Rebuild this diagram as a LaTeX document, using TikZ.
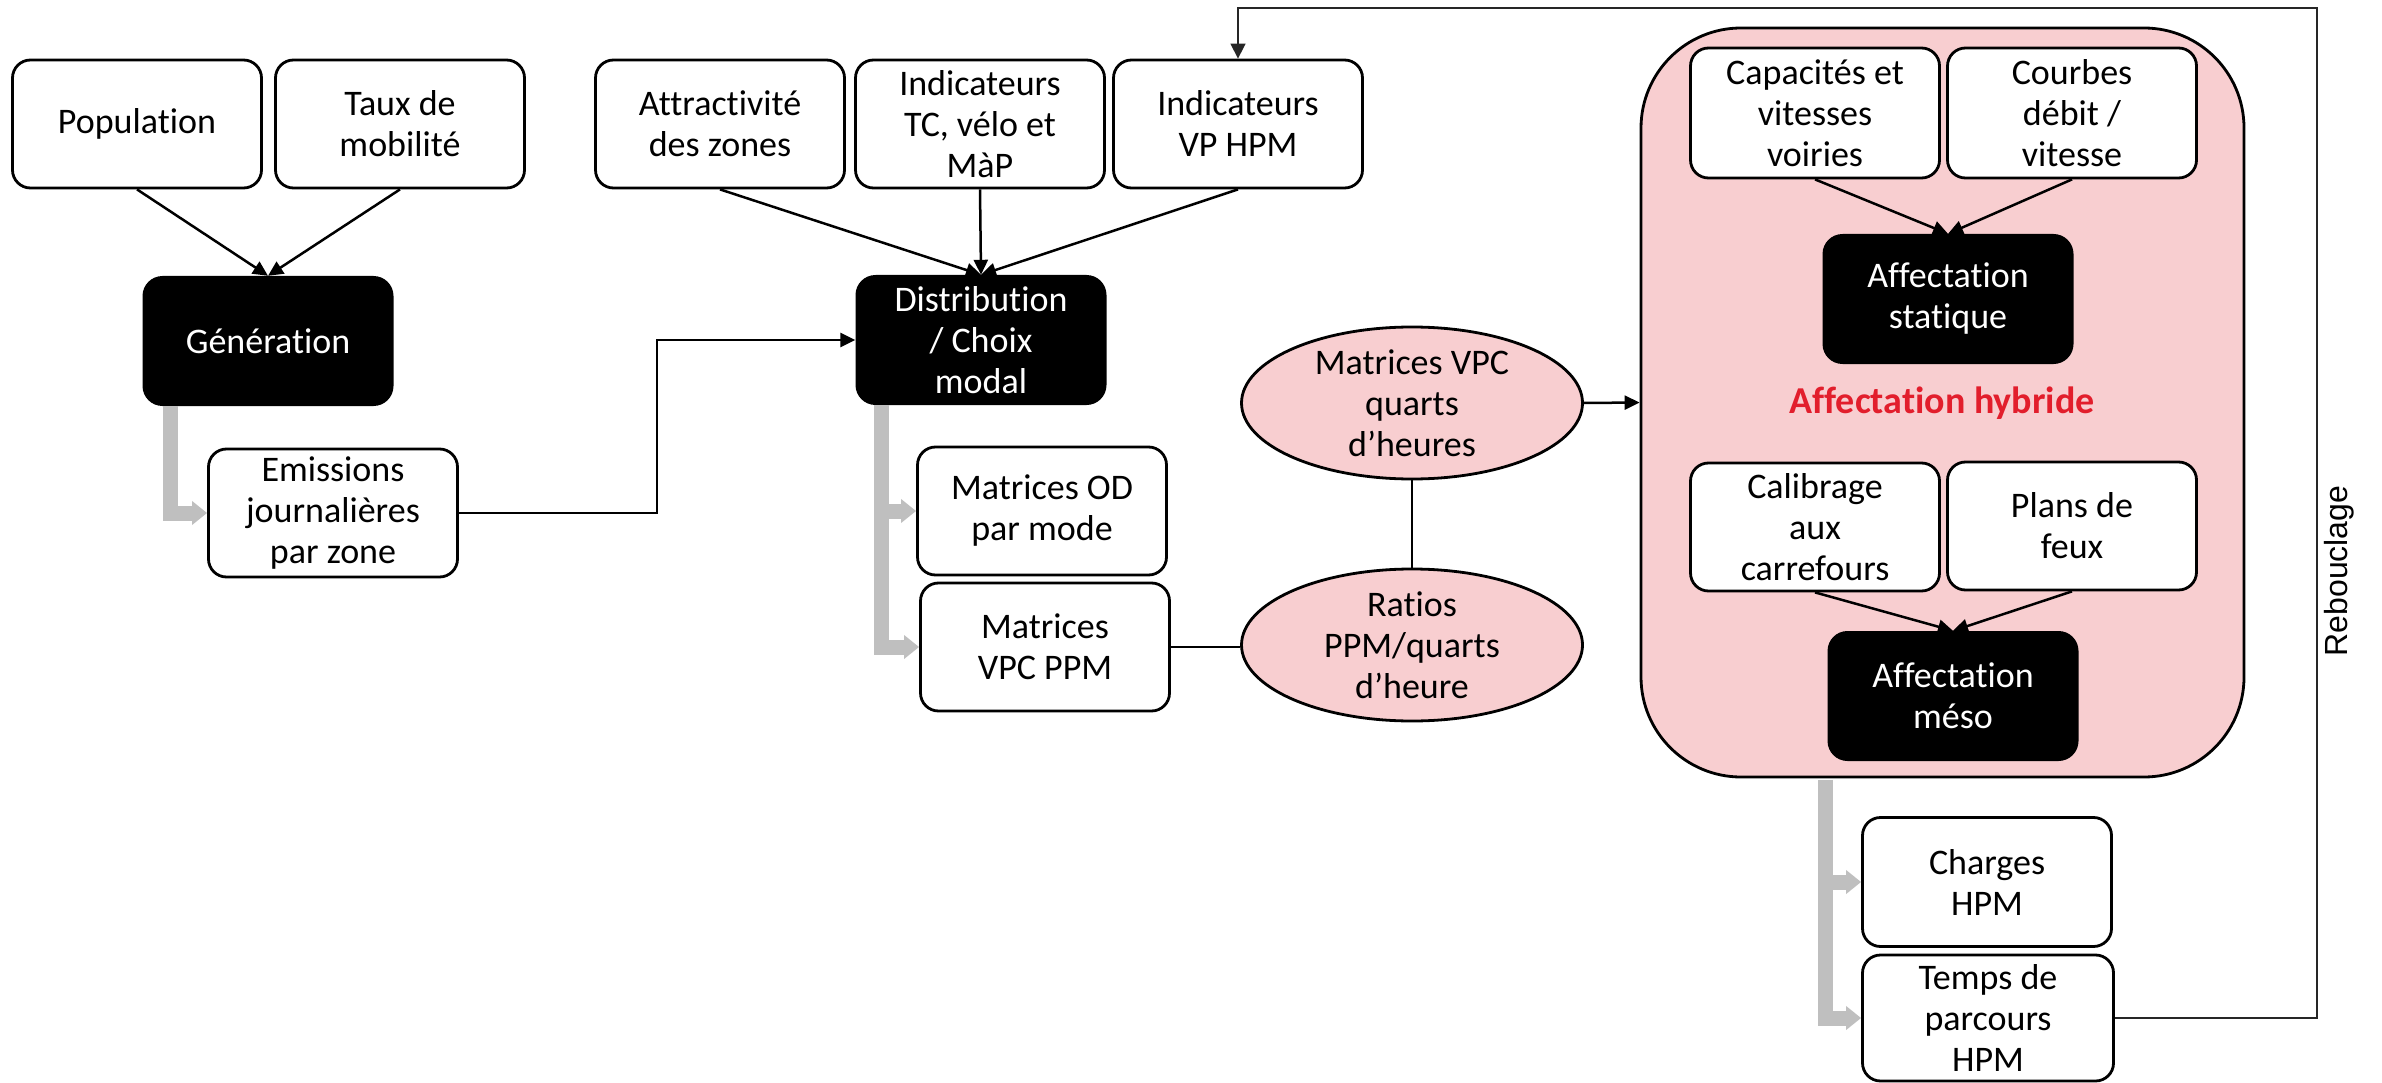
\documentclass[tikz,border=0pt]{standalone}
\usepackage{fontspec}
\setmainfont{Carlito}[Ligatures={NoCommon}, RawFeature={-liga;-calt}]
\newfontfamily\rebfont{Liberation Sans}
\usetikzlibrary{arrows.meta,shapes.geometric,calc}
\definecolor{hybpink}{RGB}{248,206,208}
\definecolor{hybred}{RGB}{226,30,44}
\definecolor{flowgray}{RGB}{191,191,191}

\begin{document}
\begin{tikzpicture}[x=1pt,y=-1pt,
  txt/.style={align=center, font=\fontsize{36}{41}\selectfont, inner sep=0pt},
  whitebox/.style={txt, draw, line width=2.8pt, fill=white, rounded corners=18pt,
                   minimum width=249pt, minimum height=128pt},
  blackbox/.style={txt, fill=black, text=white, rounded corners=20pt,
                   minimum width=251pt, minimum height=130pt},
  ovalnode/.style={txt, ellipse, draw, line width=2.8pt, fill=hybpink,
                   minimum width=341pt, minimum height=152pt},
  flowlink/.style={line width=2.5pt, -{Triangle[length=15pt,width=14pt]}},
  plainlink/.style={line width=2.5pt},
  grayflow/.style={draw=flowgray, line width=15pt, line join=miter,
                   -{Triangle[length=15pt,width=23pt]}},
  loopline/.style={line width=1.5pt, draw=black!85, -{Triangle[length=15pt,width=15pt]}}
]
\useasboundingbox (0,0) rectangle (2382,1083);

% hybrid assignment frame
\node[draw, line width=2.8pt, fill=hybpink, rounded corners=100pt,
      minimum width=603pt, minimum height=749pt] (hyb) at (1942.5,402.5) {};
\node[font=\bfseries\fontsize{38}{44}\selectfont, text=hybred] (hyblabel) at (1942,403) {Affectation hybride};

% generation stage
\node[whitebox] (pop)  at (137,124) {Population};
\node[whitebox] (taux) at (400,124) {Taux de\\mobilité};
\node[blackbox] (gen)  at (268,341) {Génération};
\node[whitebox] (emis) at (333,513) {Emissions\\journalières\\par zone};

% distribution / modal choice stage
\node[whitebox] (attr) at (720,124)  {Attractivité\\des zones};
\node[whitebox] (tc)   at (980,124)  {Indicateurs\\TC, vélo et\\MàP};
\node[whitebox] (vp)   at (1238,124) {Indicateurs\\VP HPM};
\node[blackbox] (dist) at (981,340)  {Distribution\\/ Choix\\modal};
\node[whitebox] (od)   at (1042,511) {Matrices OD\\par mode};
\node[whitebox] (vpc)  at (1045,647) {Matrices\\VPC PPM};

% quarter-hour matrices
\node[ovalnode] (quarts) at (1412,403) {Matrices VPC\\quarts\\d’heures};
\node[ovalnode] (ratios) at (1412,645) {Ratios\\PPM/quarts\\d’heure};

% inside the hybrid frame
\node[whitebox, minimum height=130pt] (cap)    at (1815,113) {Capacités et\\vitesses\\voiries};
\node[whitebox, minimum height=130pt] (courbes) at (2072,113) {Courbes\\débit /\\vitesse};
\node[blackbox] (stat)   at (1948,299) {Affectation\\statique};
\node[whitebox] (calib)  at (1815,527) {Calibrage\\aux\\carrefours};
\node[whitebox] (plans)  at (2072,526) {Plans de\\feux};
\node[blackbox] (meso)   at (1953,696) {Affectation\\méso};

% outputs
\node[whitebox, minimum height=129pt] (charges) at (1987,882)  {Charges\\HPM};
\node[whitebox, minimum width=251pt, minimum height=126pt] (temps) at (1988,1018) {Temps de\\parcours\\HPM};

\node[rotate=90, font=\rebfont\fontsize{32}{38}\selectfont] (rebou) at (2339,571) {Rebouclage};

% input arrows
\draw[flowlink] (pop.south)  -- (gen.north);
\draw[flowlink] (taux.south) -- (gen.north);
\draw[flowlink] (attr.south) -- (dist.north);
\draw[flowlink] (tc.south)   -- (dist.north);
\draw[flowlink] (vp.south)   -- (dist.north);
\draw[flowlink] (cap.south)     -- (stat.north);
\draw[flowlink] (courbes.south) -- (stat.north);
\draw[flowlink] (calib.south)   -- (meso.north);
\draw[flowlink] (plans.south)   -- (meso.north);

% links between stages
\draw[flowlink] (emis.east) -| ($(emis.east)!.5!(dist.west)$) |- (dist.west);
\draw[plainlink] (vpc.east) -- (vpc.east -| ratios.west);
\draw[plainlink] (quarts.south) -- (ratios.north);
\draw[flowlink] (quarts.east) -- (hyb.west);

% output flows
\draw[grayflow] ([xshift=28pt]gen.south west) |- (emis.west);
\draw[grayflow] ([xshift=26pt]dist.south west) |- (od.west);
\draw[grayflow] ([xshift=26pt]dist.south west) |- (vpc.west);
\draw[grayflow] ([xshift=-2pt,yshift=-1.5pt]hyb.south -| meso.west) |- (charges.west);
\draw[grayflow] ([xshift=-2pt,yshift=-1.5pt]hyb.south -| meso.west) |- (temps.west);

% feedback loop
\coordinate (loopcorner) at (2317,8);
\draw[loopline] (temps.east) -| (loopcorner) -| (vp.north);
\end{tikzpicture}
\end{document}
